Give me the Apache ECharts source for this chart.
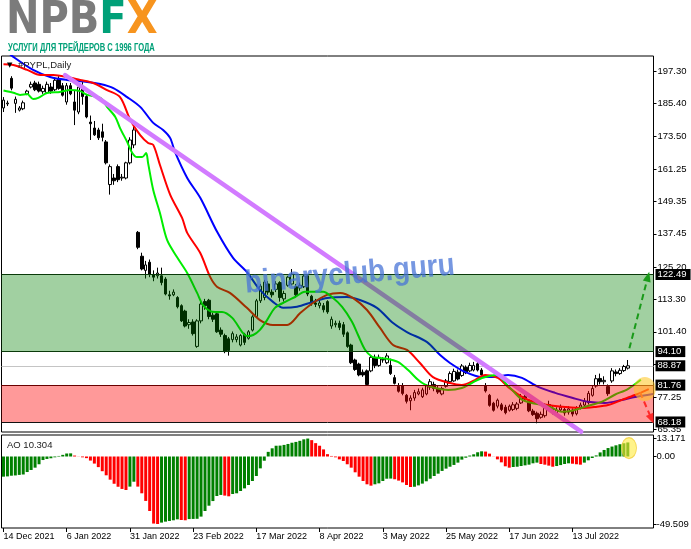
<!DOCTYPE html>
<html><head><meta charset="utf-8">
<script src="https://cdn.jsdelivr.net/npm/echarts@6/dist/echarts.min.js"></script>
<style>html,body{margin:0;padding:0;background:#fff}#c{width:691px;height:549px}</style>
</head><body><div id="c"></div>
<script>
// ---- data ----
// candles: [open, close, low, high]
const candles = [
[183.8,186.7,182.3,187.8],[185.3,185.6,184.5,186.5],[194.7,191.1,190.3,195.5],[185.5,187.0,182.0,188.0],[183.0,183.8,182.5,184.5],
[183.5,185.7,183.0,186.5],[189.0,190.0,188.5,190.5],[191.5,192.5,191.0,193.5],[193.0,190.5,190.0,193.8],[192.5,190.0,189.5,193.5],
[189.8,191.0,189.0,192.0],[189.5,192.5,189.0,193.5],[191.5,190.0,189.0,193.0],[190.5,194.0,190.0,195.0],[194.5,191.0,190.5,195.5],
[192.0,188.5,188.0,193.0],[186.0,192.0,185.0,193.0],[192.0,189.0,188.5,193.0],[186.0,183.0,177.5,190.3],[182.3,191.5,181.5,193.0],
[191.0,188.0,185.0,193.5],[188.0,180.5,180.0,189.0],[178.6,178.0,172.0,181.0],[176.4,173.9,173.5,179.0],[175.7,172.8,172.0,176.5],
[175.0,173.0,171.5,178.0],[171.3,163.6,163.0,172.0],[155.6,162.2,151.9,163.0],[158.0,157.0,155.5,159.5],[162.2,157.4,156.5,163.0],
[158.0,158.3,157.0,159.5],[158.0,163.6,157.5,164.0],[163.6,172.0,163.0,173.0],[170.2,175.7,169.0,177.0],[138.0,132.5,131.8,138.5],
[129.2,124.5,124.0,130.5],[124.0,126.0,121.0,127.5],[127.0,122.5,121.5,128.0],[122.5,121.5,120.0,124.0],[122.0,123.0,121.0,125.0],
[122.0,119.5,118.5,125.0],[120.8,115.3,114.8,121.5],[115.0,114.6,113.2,116.5],[115.0,116.0,114.5,117.0],[114.0,110.6,110.0,114.5],
[111.0,105.4,105.0,111.5],[109.0,103.5,103.0,109.5],[104.0,104.8,102.5,106.0],[105.0,100.7,100.0,106.0],[96.0,105.4,95.5,106.0],
[105.4,111.6,104.5,112.5],[112.5,111.0,109.5,113.5],[113.0,107.0,106.0,113.5],[107.5,106.0,105.0,108.5],[108.0,101.4,101.0,109.0],
[102.0,100.5,99.5,103.0],[100.0,94.1,93.5,100.7],[98.8,94.5,92.6,99.5],[98.5,100.7,97.5,101.5],[98.5,99.5,97.5,100.5],
[96.5,100.0,96.0,100.5],[100.5,97.5,96.5,101.0],[99.0,101.4,98.5,102.0],[102.0,106.9,101.5,107.5],[107.0,112.8,106.5,113.5],
[112.8,118.2,112.0,119.0],[114.0,119.7,113.0,120.5],[119.0,116.0,115.0,120.0],[116.0,115.0,114.0,117.0],[117.0,119.0,116.0,120.0],
[119.5,114.0,112.5,120.0],[113.5,115.5,112.5,116.5],[118.5,121.5,118.0,122.0],[119.0,122.6,118.5,124.5],[118.0,115.0,114.0,119.0],
[117.5,118.5,116.5,119.5],[118.0,121.9,117.5,122.5],[122.0,115.3,114.5,122.6],[114.5,112.0,111.0,115.0],[112.0,111.5,110.5,113.5],
[111.0,112.0,110.0,113.5],[111.0,109.5,108.5,112.0],[112.5,108.7,108.0,113.0],[103.5,106.0,102.5,107.0],[104.0,104.5,103.0,105.5],
[104.5,103.0,102.0,105.5],[104.0,100.5,99.5,105.0],[101.0,96.0,95.5,101.5],[96.5,90.0,89.5,97.0],[91.0,87.5,87.0,91.5],
[89.5,85.5,85.0,90.0],[86.5,85.5,84.8,87.5],[87.0,82.0,81.6,87.5],[87.0,92.0,86.5,92.5],[92.0,89.0,88.0,93.0],
[89.0,92.0,88.5,93.0],[91.0,91.2,90.0,92.0],[90.0,92.5,89.5,93.5],[89.0,86.0,85.5,91.5],[84.5,82.4,82.0,85.5],
[81.3,79.5,79.0,82.5],[81.5,78.7,78.0,82.5],[78.0,75.8,75.0,78.5],[76.0,77.0,72.5,78.0],[77.0,79.0,76.0,80.0],
[78.5,79.3,78.0,80.5],[77.5,80.0,77.0,80.8],[78.5,81.5,78.0,82.0],[81.0,83.0,80.0,84.0],[82.0,80.5,79.5,83.0],
[80.5,79.2,78.5,81.5],[78.5,80.5,78.0,81.2],[81.3,83.3,80.8,84.0],[83.0,86.0,82.5,86.8],[83.3,86.8,83.0,87.8],
[86.5,84.0,83.5,87.5],[85.3,88.8,84.8,89.5],[88.3,86.3,85.8,89.0],[87.0,89.0,86.5,90.0],[87.3,89.0,86.8,90.3],
[89.6,87.3,86.8,90.5],[87.3,85.5,85.0,88.0],[81.5,79.6,79.0,82.5],[78.0,74.3,73.8,78.5],[75.1,72.5,72.0,75.6],
[74.0,76.2,73.2,76.8],[74.5,72.8,72.2,75.2],[73.6,71.6,71.0,74.5],[72.5,74.0,72.0,74.6],[72.8,74.5,72.2,75.5],
[73.2,74.8,72.5,75.5],[75.2,77.6,74.8,78.5],[77.5,76.6,76.0,78.8],[76.0,72.3,71.8,76.5],[72.2,70.9,70.4,73.0],
[71.4,69.4,67.7,72.0],[69.9,71.0,69.4,72.0],[70.5,74.0,69.8,75.0],[74.6,73.2,72.3,76.0],[73.2,72.0,71.0,74.0],
[71.5,72.6,70.6,73.6],[72.6,73.6,72.0,74.6],[72.8,71.5,70.5,73.5],[71.8,73.0,70.9,74.0],[72.6,71.1,70.2,73.2],
[71.2,73.5,70.6,74.0],[73.6,74.4,72.8,75.3],[74.4,75.9,74.0,77.0],[75.3,78.7,74.6,79.6],[78.0,80.5,77.5,81.5],
[81.4,84.1,80.8,85.5],[84.2,83.0,82.0,86.0],[83.0,83.5,82.0,85.0],[81.2,78.6,77.8,82.0],[83.3,87.0,82.6,88.0],
[86.6,86.0,85.0,87.5],[86.0,87.2,85.5,88.0],[87.1,88.6,86.6,89.2],[88.0,88.87,87.5,91.0]
];
// Alligator lines, displaced forward: [bar index, price]
const jaw = [[0,205.5],[2.5,202.6],[7.5,197.8],[11.8,195.2],[16.1,194.1],[21.2,193.4],[24.5,192.6],[27.8,191.1],[31.3,187.8],[34.6,184.2],[37.9,178.3],[40.4,175.7],[42.2,172.7],[43.4,167.6],[46.5,158.0],[49.8,150.7],[54.1,138.1],[58.1,128.6],[61.6,123.4],[64.9,116.8],[68.2,112.4],[70.8,110.2],[74.3,110.6],[78.3,112.4],[81.9,113.8],[86.9,114.2],[90.2,113.1],[94.5,110.2],[98.6,104.6],[102.1,101.3],[107.2,97.6],[110.5,92.8],[113,89.9],[116.8,86.6],[121.1,84.7],[124.4,84.7],[127.7,85.5],[131.2,84.4],[135.3,81.1],[139.6,78.9],[143.9,77.1],[147.9,75.6],[152.2,75.2],[156.5,76.3],[159.8,77.4],[164.4,78.5]];
const teeth = [[0,199.9],[2.5,199.6],[6,197.8],[9.3,195.9],[12.6,195.9],[16.1,195.2],[19.4,194.1],[22.7,193.0],[26.2,190.4],[29.5,187.8],[32.1,179.4],[34.6,173.8],[36.6,170.9],[37.9,170.2],[39.6,162.8],[42.2,151.8],[45.2,143.3],[46.5,137.8],[49.8,130.4],[52.3,121.6],[54.1,117.9],[57.3,115.7],[61.6,110.2],[64.9,105.7],[68.2,103.9],[71.8,103.9],[75.1,108.3],[78.3,112.0],[81.9,115.0],[85.2,115.7],[88.5,113.8],[92,109.4],[95.3,102.8],[98.6,96.5],[102.1,94.7],[105.4,89.9],[108.7,84.7],[113,82.5],[116,81.8],[119.3,83.6],[121.9,85.5],[125.1,84.4],[127.7,81.1],[131.2,77.4],[134.5,75.5],[137.8,74.4],[142.1,73.7],[146.4,73.3],[149.7,73.7],[153,74.4],[156.5,76.3],[159.8,78.1],[163.3,80.3]];
const lips = [[0,190.2],[2.5,189.4],[4.2,188.6],[6,188.9],[7.5,187.1],[8.8,187.5],[11,189.3],[14.3,189.7],[16.9,190.4],[19.4,190.0],[21.2,188.6],[24.5,187.5],[26.2,184.2],[28.3,180.5],[29.5,176.4],[31.3,171.3],[32.6,167.2],[33.8,165.7],[35.1,165.7],[36.1,167.2],[36.6,163.5],[37.9,153.6],[39.6,145.1],[41.4,135.2],[43.9,128.9],[46.5,123.0],[49,115.7],[50.5,111.2],[52.3,109.0],[53.6,108.7],[55.3,108.7],[57.9,106.5],[60.4,101.3],[61.6,99.8],[63.2,100.2],[64.9,102.1],[66.7,105.7],[68.7,110.2],[71.3,112.4],[73.8,114.2],[76.3,116.1],[78.8,116.1],[80.9,116.1],[83.1,114.2],[85.7,110.6],[88.2,105.1],[89.7,100.3],[91.5,94.8],[93.3,92.2],[94.8,91.8],[97.3,91.4],[99.8,90.3],[102.4,87.3],[104.9,83.7],[106.7,81.9],[109.2,80.7],[112.5,80.0],[116,80.7],[118.6,82.6],[121.1,84.4],[124.9,85.5],[127.4,81.9],[128.7,80.0],[131.2,76.4],[133.7,75.2],[136.3,74.5],[138.8,73.4],[141.3,71.9],[143.9,72.3],[146.4,73.4],[148.9,74.5],[151.5,75.7],[154.7,78.2],[158,80.3],[161.3,83.7]];
// Awesome Oscillator
const ao = [-14.8,-14.6,-14.1,-13.9,-13.5,-13.2,-11.4,-9.9,-8.2,-5.7,-2.6,-1.8,-1.3,-0.6,0.4,1.2,2.2,2.3,0.7,-0.1,
-0.6,-1.2,-3.0,-5.2,-7.8,-10.8,-13.8,-17.0,-20.0,-22.2,-23.8,-24.6,-22.1,-18.5,-22.1,-27.0,-32.6,-40.0,-49.2,-49.509,
-48.5,-47.8,-47.3,-46.8,-46.1,-46.6,-46.8,-45.9,-45.8,-45.7,-44.1,-40.0,-36.1,-32.7,-29.0,-28.2,-28.7,-29.2,-27.5,-27.0,
-25.3,-23.4,-20.9,-18.0,-14.3,-8.7,-3.1,3.4,6.0,7.9,8.0,8.5,9.2,10.1,10.7,11.5,12.6,13.171,12.0,9.8,
7.9,5.2,1.7,0.4,-0.6,-2.1,-3.3,-5.7,-8.2,-11.6,-14.8,-18.0,-20.4,-21.4,-20.4,-19.7,-18.0,-16.3,-16.2,-16.7,
-17.7,-19.0,-20.9,-22.4,-22.2,-21.2,-19.9,-18.2,-16.3,-14.3,-12.6,-10.6,-8.9,-7.5,-6.2,-4.5,-2.3,-0.9,0.7,1.6,
3.1,3.8,3.6,2.1,0.1,-2.1,-4.3,-7.2,-8.2,-7.7,-7.5,-7.0,-6.5,-6.0,-5.0,-4.5,-5.5,-6.0,-6.7,-7.5,
-7.0,-6.3,-5.5,-5.0,-5.3,-5.7,-6.0,-4.5,-2.8,-1.1,0.8,3.0,4.8,6.2,7.3,8.2,9.0,9.7,10.304];
const priceTicks = ['197.30','185.40','173.50','161.25','149.35','137.45','125.20','113.30','101.40','89.50','77.25','65.35'];
const aoTicks = ['13.171','0.00','-49.509'];
const levelLabels = ['122.49','94.10','88.87','81.76','68.18'];
const greenZone = [94.10, 122.49];
const redZone = [68.18, 81.76];
const lastPrice = 88.87;
const trendLine = [[15.6,195.9],[146.2,64.6]];
const upArrow = [[158.4,95.3],[163.1,121.7]];
const downArrow = [[161.1,79.1],[164.0,69.3]];
const priceHighlight = [162.3,80.3];
const aoHighlight = [158.3,6.2];
const symbolName = '#PYPL,Daily';
const aoName = 'AO 10.304';
const holidays = ['2021-12-24','2022-01-17','2022-02-21','2022-04-15','2022-05-30','2022-06-20','2022-07-04'];
const firstDate = '2021-12-14';
const extraSlots = 6; // empty bars to the right (chart shift)

// ---- build ----
const months = ['Jan','Feb','Mar','Apr','May','Jun','Jul','Aug','Sep','Oct','Nov','Dec'];
function tradingDays(start, n){
  const out=[]; const d=new Date(start+'T00:00:00Z');
  while(out.length<n){
    const dow=d.getUTCDay(); const iso=d.toISOString().slice(0,10);
    if(dow!==0&&dow!==6&&holidays.indexOf(iso)<0) out.push(d.getUTCDate()+' '+months[d.getUTCMonth()]+' '+d.getUTCFullYear());
    d.setUTCDate(d.getUTCDate()+1);
  }
  return out;
}
const dates = tradingDays(firstDate, candles.length);
const cats = dates.slice();
for(let k=0;k<extraSlots;k++) cats.push('_'+(dates.length+k));
const N = cats.length;
const showDate = (idx)=> idx < dates.length && idx % 16 === 0;

const aoData = ao.map((v,i)=>({value:v,itemStyle:{color:(i===0||v>ao[i-1])?'#008000':'#ff0000'}}));

const FONT = 'Liberation Sans, Arial, sans-serif';
const PMIN = 64.49, PMAX = 202.93;
const AOMIN = -52.46, AOMAX = 15.77;

const chart = echarts.init(document.getElementById('c'), null, {renderer:'canvas', width:691, height:549});
const option = {
  animation:false,
  backgroundColor:'#fff',
  grid:[
    {left:1.5,right:37.5,top:56,height:376,show:true,borderColor:'#000',borderWidth:1,backgroundColor:'transparent',containLabel:false,outerBoundsMode:'none'},
    {left:1.5,right:37.5,top:435,height:93,show:true,borderColor:'#000',borderWidth:1,backgroundColor:'transparent',containLabel:false,outerBoundsMode:'none'}
  ],
  xAxis:[
    {type:'category',gridIndex:0,data:cats,boundaryGap:true,axisLine:{show:false,onZero:false},axisTick:{show:false},axisLabel:{show:false},splitLine:{show:false}},
    {type:'category',gridIndex:1,data:cats,boundaryGap:true,axisLine:{show:false,onZero:false},
      axisTick:{show:true,alignWithLabel:true,length:4,interval:(i)=>showDate(i),lineStyle:{color:'#000'}},
      axisLabel:{show:true,interval:(i)=>showDate(i),align:'left',margin:4,fontSize:9,fontFamily:FONT,color:'#000'},
      splitLine:{show:false}},
    {type:'value',gridIndex:0,min:-0.5,max:N-0.5,show:false,axisLine:{onZero:false}},
    {type:'value',gridIndex:1,min:-0.5,max:N-0.5,show:false,axisLine:{onZero:false}}
  ],
  yAxis:[
    {type:'value',gridIndex:0,position:'right',min:PMIN,max:PMAX,
      axisLine:{show:false,onZero:false},splitLine:{show:false},
      axisTick:{show:true,length:3,customValues:priceTicks.map(Number),lineStyle:{color:'#000'}},
      axisLabel:{show:true,customValues:priceTicks.map(Number),margin:4,fontSize:9.5,fontFamily:FONT,color:'#000',
        formatter:(v)=>{const s=priceTicks.find(t=>Math.abs(Number(t)-v)<1e-6);return s||'';}}},
    {type:'value',gridIndex:1,position:'right',min:AOMIN,max:AOMAX,
      axisLine:{show:false,onZero:false},splitLine:{show:false},
      axisTick:{show:true,length:3,customValues:aoTicks.map(Number),lineStyle:{color:'#000'}},
      axisLabel:{show:true,customValues:aoTicks.map(Number),margin:3,fontSize:9.5,fontFamily:FONT,color:'#000',
        formatter:(v)=>{const s=aoTicks.find(t=>Math.abs(Number(t)-v)<1e-6);return s||'';}}}
  ],
  series:[
    // current price line (behind)
    {type:'line',xAxisIndex:2,yAxisIndex:0,data:[],z:1,silent:true,
      markLine:{z:1,symbol:'none',silent:true,animation:false,label:{show:false},
        data:[{yAxis:lastPrice}],lineStyle:{color:'#c4c4c4',width:1,type:'solid'}}},
    {type:'candlestick',xAxisIndex:0,yAxisIndex:0,data:candles.map(c=>[c[0],c[1],c[2],c[3]]),barWidth:3,z:2,
      itemStyle:{color:'#ffffff',color0:'#000000',borderColor:'#000000',borderColor0:'#000000',borderWidth:1}},
    {type:'line',xAxisIndex:2,yAxisIndex:0,data:jaw,showSymbol:false,smooth:0.3,z:3,lineStyle:{color:'#0000ff',width:2}},
    {type:'line',xAxisIndex:2,yAxisIndex:0,data:teeth,showSymbol:false,smooth:0.3,z:3,lineStyle:{color:'#ff0000',width:2}},
    {type:'line',xAxisIndex:2,yAxisIndex:0,data:lips,showSymbol:false,smooth:0.3,z:3,lineStyle:{color:'#00ee00',width:2}},
    // trend line
    {type:'line',xAxisIndex:2,yAxisIndex:0,data:[],z:4,silent:true,
      markLine:{z:4,symbol:'none',silent:true,animation:false,label:{show:false},
        lineStyle:{color:'#d27bff',width:4.5,type:'solid',cap:'round'},
        data:[[{coord:trendLine[0]},{coord:trendLine[1]}]]}},
    // zones (semi-transparent, over price)
    {type:'line',xAxisIndex:2,yAxisIndex:0,data:[],z:6,silent:true,
      markArea:{z:6,silent:true,animation:false,data:[
        [{coord:[-0.5,greenZone[0]],itemStyle:{color:'rgba(0,128,0,0.37)',borderWidth:0}},{coord:[N-0.5,greenZone[1]]}],
        [{coord:[-0.5,redZone[0]],itemStyle:{color:'rgba(255,0,0,0.4)',borderWidth:0}},{coord:[N-0.5,redZone[1]]}]
      ]},
      markLine:{z:6,symbol:'none',silent:true,animation:false,label:{show:false},
        data:[
          {yAxis:greenZone[1],lineStyle:{color:'#0a3a0a',width:1,type:'solid'}},
          {yAxis:greenZone[0],lineStyle:{color:'#0a3a0a',width:1,type:'solid'}},
          {yAxis:redZone[1],lineStyle:{color:'#6a0000',width:1,type:'solid'}},
          {yAxis:redZone[0],lineStyle:{color:'#111',width:1,type:'solid'}}
        ]}},
    // arrows and highlight
    {type:'line',xAxisIndex:2,yAxisIndex:0,data:[],z:8,silent:true,clip:false,
      markLine:{z:8,silent:true,animation:false,label:{show:false},symbol:['none','triangle'],symbolSize:[8,10],
        data:[
          [{coord:upArrow[0],lineStyle:{color:'#1a9a1a',width:2,type:[6,4]},itemStyle:{color:'#1a9a1a'}},{coord:upArrow[1]}],
          [{coord:downArrow[0],lineStyle:{color:'#ff2a2a',width:2,type:[6,4]},itemStyle:{color:'#ff2a2a'}},{coord:downArrow[1]}]
        ]},
      markPoint:{z:8,silent:true,animation:false,label:{show:false},symbol:'circle',symbolSize:[22,24],
        itemStyle:{color:'rgba(255,196,30,0.55)'},data:[{coord:priceHighlight}]}},
    // level labels on price axis
    {type:'line',xAxisIndex:2,yAxisIndex:0,data:[],z:9,silent:true,clip:false,
      markLine:{z:9,symbol:'none',silent:true,animation:false,lineStyle:{color:'rgba(0,0,0,0)',width:0.01},
        label:{show:true,position:'end',distance:2,formatter:'{b}',
          backgroundColor:'#000',color:'#fff',fontSize:9.5,fontFamily:FONT,padding:[1,4,0,2],lineHeight:10},
        data:levelLabels.map(s=>({yAxis:Number(s),name:s}))}},
    // AO
    {type:'bar',xAxisIndex:1,yAxisIndex:1,data:aoData,barWidth:3,z:2},
    {type:'line',xAxisIndex:3,yAxisIndex:1,data:[],z:8,silent:true,clip:false,
      markPoint:{z:8,silent:true,animation:false,label:{show:false},symbol:'circle',symbolSize:[15,21],
        itemStyle:{color:'rgba(255,235,60,0.6)',borderColor:'rgba(240,200,40,0.7)',borderWidth:1},data:[{coord:aoHighlight}]}}
  ],
  graphic:[
    {type:'text',x:6,y:22,scaleX:0.91,z:20,style:{text:'{a|NPB}{b|F}{c|X}',verticalAlign:'middle',
      rich:{a:{fontSize:44,fontWeight:'bold',fontFamily:'DejaVu Sans',fill:'#7b7b7b'},
            b:{fontSize:44,fontWeight:'bold',fontFamily:'DejaVu Sans',fill:'#00a078'},
            c:{fontSize:44,fontWeight:'bold',fontFamily:'DejaVu Sans',fill:'#f7941e'}}}},
    {type:'text',x:8,y:48,scaleX:0.66,z:20,style:{text:'УСЛУГИ ДЛЯ ТРЕЙДЕРОВ С 1996 ГОДА',verticalAlign:'middle',
      fontSize:11.5,fontWeight:'bold',fontFamily:FONT,fill:'#00a078'}},
    {type:'text',x:7,y:65,z:20,style:{text:'▼',verticalAlign:'middle',fontSize:7,fontFamily:'DejaVu Sans',fill:'#000'}},
    {type:'text',x:18,y:65,z:20,style:{text:symbolName,verticalAlign:'middle',fontSize:9.5,fontFamily:FONT,fill:'#222'}},
    {type:'text',x:7,y:445,z:20,style:{text:aoName,verticalAlign:'middle',fontSize:9.5,fontFamily:FONT,fill:'#222'}},
    {type:'text',x:245,y:284,rotation:5*Math.PI/180,scaleX:0.87,z:15,silent:true,
      style:{text:'binaryclub.guru',verticalAlign:'middle',fontSize:32,fontWeight:'bold',fontFamily:FONT,fill:'rgba(70,115,215,0.74)'}}
  ]
};
chart.setOption(option);
</script></body></html>
